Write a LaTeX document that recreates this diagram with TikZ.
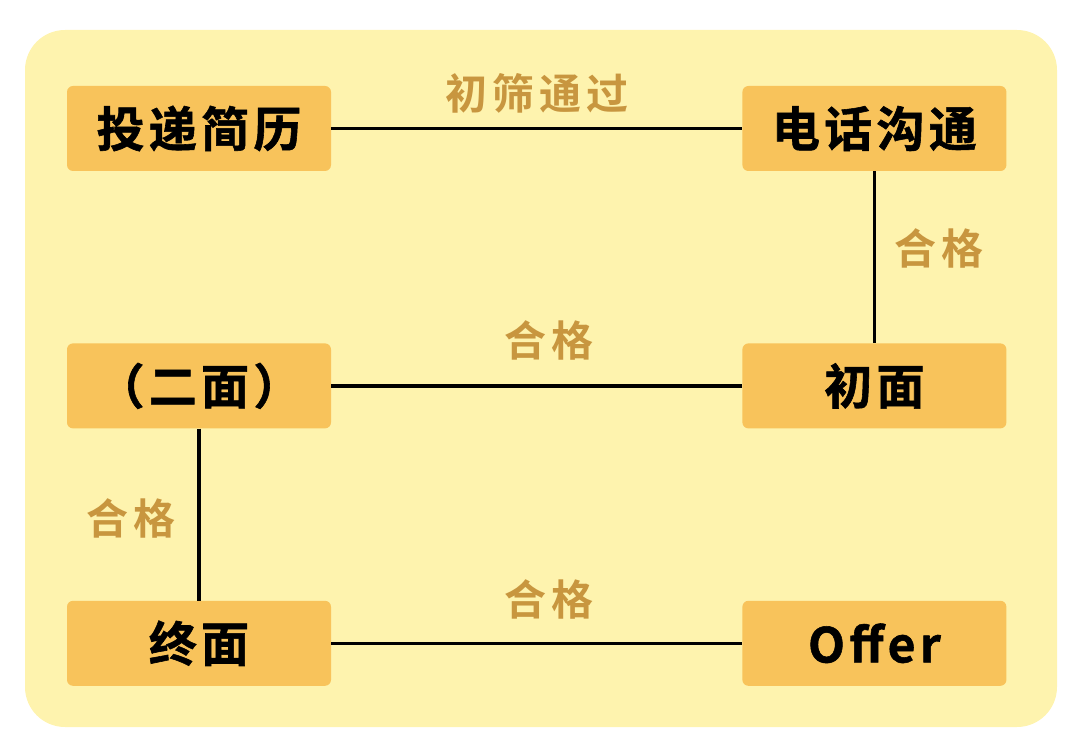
\documentclass[tikz,border=0pt]{standalone}
\usepackage{fontspec}
\usepackage{tikz}
\usetikzlibrary{positioning, calc}
\newfontfamily\boxfont[LetterSpace=9,BoldFont={Noto Sans CJK SC Bold},
  BoldFeatures={FakeBold=1.2}]{Noto Sans CJK SC}
\newfontfamily\lblfont[LetterSpace=12,BoldFont={Noto Sans CJK SC Bold}]{Noto Sans CJK SC}
\definecolor{paper}{HTML}{FEF3AE}
\definecolor{boxfill}{HTML}{F8C35B}
\definecolor{lbltan}{HTML}{C8963F}

\begin{document}
\begin{tikzpicture}[
  x=1pt, y=-1pt,
  node distance=172pt and 411pt,
  stage/.style={fill=boxfill, rounded corners=6pt, minimum width=264pt,
                minimum height=85pt, inner sep=0pt, align=center,
                font=\boxfont\bfseries\fontsize{48}{52}\selectfont},
  lbl/.style={text=lbltan, inner sep=0pt,
              font=\lblfont\bfseries\fontsize{42}{46}\selectfont},
  link/.style={line width=3.6pt, black},
]

% --- page and background panel ---
\useasboundingbox (0,0) rectangle (1080,751);
\fill[paper, rounded corners=40pt] (25,30) rectangle (1057,727);

% --- stages: two columns, three rows ---
\node[stage] (resume) at (199,128.5) {投递简历};
\node[stage, right=of resume] (phone) {电话沟通};
\node[stage, below=of phone] (first) {初面};
\node[stage, below=of resume] (second) {（二面）};
\node[stage, below=of second] (final) {终面};
\node[stage, below=of first] (offer) {Offer};

% --- connectors ---
\draw[link] (resume) -- (phone);
\draw[link] (phone) -- (first);
\draw[link] (first) -- (second);
\draw[link] (second) -- (final);
\draw[link] (final) -- (offer);

% --- labels on the connectors ---
\node[lbl] (lscreen) at ($(resume.east)!0.5!(phone.west)+(0,-35)$) {初筛通过};
\node[lbl] (lphone) at ($(phone.south)!0.45!(first.north)+(65,0)$) {合格};
\node[lbl] (lfirst) at ($(first.west)!0.47!(second.east)+(0,-45)$) {合格};
\node[lbl] (lsecond) at ($(second.south)!0.52!(final.north)+(-68,0)$) {合格};
\node[lbl] (lfinal) at ($(final.east)!0.53!(offer.west)+(0,-44)$) {合格};

\end{tikzpicture}
\end{document}
